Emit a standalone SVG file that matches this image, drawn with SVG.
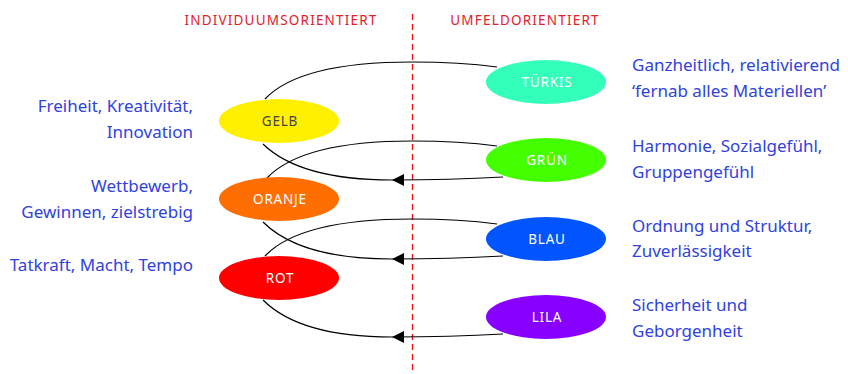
<svg xmlns="http://www.w3.org/2000/svg" width="848" height="374" viewBox="0 0 848 374">
<style>
.hdr{font-family:"Noto Sans","Open Sans",sans-serif;font-size:13.5px;fill:#E4202A;letter-spacing:1.2px;text-anchor:middle}
.desc{font-family:"Noto Sans","Open Sans",sans-serif;font-size:17px;fill:#3042E0}
.lbl{font-family:"Noto Sans","Open Sans",sans-serif;font-size:13.5px;fill:#ffffff;letter-spacing:0.8px;text-anchor:middle}
.conn{fill:none;stroke:#000;stroke-width:1.2}
</style>
<defs>
<marker id="arr" viewBox="0 0 12 12" refX="12" refY="6" markerWidth="12" markerHeight="12" markerUnits="userSpaceOnUse" orient="auto">
<path d="M0,0 L12,6 L0,12 Z" fill="#000"/>
</marker>
</defs>
<rect width="848" height="374" fill="#fff"/>
<text class="hdr" x="281" y="25">INDIVIDUUMSORIENTIERT</text>
<text class="hdr" x="525" y="25">UMFELDORIENTIERT</text>
<line x1="412.5" y1="14" x2="412.5" y2="374" stroke="#F01010" stroke-width="1.3" stroke-dasharray="6,4"/>
<g id="connectors">
<path class="conn" d="M265,99 Q300,62 412,62 Q460,62 497,67"/>
<path class="conn" d="M267,178 Q302,141 412,141 Q460,141 497,146"/>
<path class="conn" d="M265,256 Q300,219 412,219 Q460,219 497,224"/>
<path class="conn" d="M503,177 Q450,180 392,180 Q300,180 263,144" marker-mid="url(#arr)"/>
<path class="conn" d="M503,256 Q450,259 392,259 Q300,259 263,222" marker-mid="url(#arr)"/>
<path class="conn" d="M503,334 Q450,337 392,337 Q300,337 263,300" marker-mid="url(#arr)"/>
</g>
<g id="gelb"><ellipse cx="279" cy="121" rx="60" ry="22" fill="#FFF000"/><text class="lbl" x="280" y="126" style="fill:#444">GELB</text></g>
<g id="oranje"><ellipse cx="279" cy="199" rx="60" ry="22" fill="#FF6E00"/><text class="lbl" x="280" y="204">ORANJE</text></g>
<g id="rot"><ellipse cx="279" cy="278" rx="60" ry="22" fill="#FF0000"/><text class="lbl" x="280" y="283">ROT</text></g>
<g id="tuerkis"><ellipse cx="546" cy="82" rx="60" ry="22" fill="#33FFBB"/><text class="lbl" x="547" y="87">TÜRKIS</text></g>
<g id="gruen"><ellipse cx="546" cy="160" rx="60" ry="22" fill="#44FF00"/><text class="lbl" x="547" y="165">GRÜN</text></g>
<g id="blau"><ellipse cx="546" cy="239" rx="60" ry="22" fill="#0055FF"/><text class="lbl" x="547" y="244">BLAU</text></g>
<g id="lila"><ellipse cx="546" cy="317" rx="60" ry="22" fill="#8800FF"/><text class="lbl" x="547" y="322">LILA</text></g>
<g id="desc-left" class="desc" text-anchor="end">
<text x="193" y="112">Freiheit, Kreativität,</text>
<text x="193" y="138">Innovation</text>
<text x="193" y="192">Wettbewerb,</text>
<text x="193" y="218">Gewinnen, zielstrebig</text>
<text x="193" y="271">Tatkraft, Macht, Tempo</text>
</g>
<g id="desc-right" class="desc">
<text x="632" y="71">Ganzheitlich, relativierend</text>
<text x="632" y="97">‘fernab alles Materiellen’</text>
<text x="632" y="152">Harmonie, Sozialgefühl,</text>
<text x="632" y="178">Gruppengefühl</text>
<text x="632" y="232">Ordnung und Struktur,</text>
<text x="632" y="257">Zuverlässigkeit</text>
<text x="632" y="311">Sicherheit und</text>
<text x="632" y="337">Geborgenheit</text>
</g>
</svg>
